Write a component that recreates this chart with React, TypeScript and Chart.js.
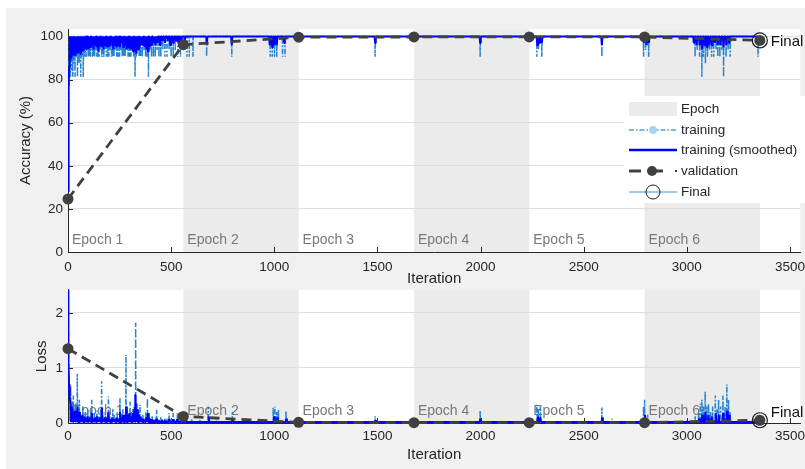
import React, { useEffect, useRef } from 'react';
import { Chart, registerables } from 'chart.js';

Chart.register(...registerables);

const FONT_FAMILY = '"Liberation Sans", Arial, Helvetica, sans-serif';
const AXIS_COLOR = '#262626';
const GRID_COLOR = '#dedede';
const SHADE_COLOR = '#ebebeb';
const RAW_COLOR = '#2483d2';
const SMOOTH_COLOR = '#0000ff';
const VAL_COLOR = '#404040';

// ---------- axes ----------
const iterMax = 3550;
const iterTicks = [0, 500, 1000, 1500, 2000, 2500, 3000, 3500];
const accMax = 103.5;
const accTicks = [0, 20, 40, 60, 80, 100];
const lossMax = 2.42;
const lossTicks = [0, 1, 2];

// ---------- epochs ----------
const epochLabels = ['Epoch 1', 'Epoch 2', 'Epoch 3', 'Epoch 4', 'Epoch 5', 'Epoch 6'];
const epochStarts = [0, 559, 1118, 1677, 2236, 2795];
const epochEnds = [559, 1118, 1677, 2236, 2795, 3354];

// ---------- validation ----------
const valIter = [0, 559, 1118, 1677, 2236, 2795, 3354];
const valAcc = [24.6, 96.2, 99.7, 99.8, 99.8, 99.8, 98.2];
const valLoss = [1.35, 0.12, 0.012, 0.006, 0.006, 0.006, 0.05];
const finalIter = 3354;
const finalAcc = 98.2;
const finalLoss = 0.05;

// ---------- training accuracy (raw, per mini-batch) ----------
const accRawBase = 100;
const accRawStartIter = [0, 2, 4];
const accRawStartVal = [28.1, 65.6, 84.4];
const accRawDipIter = [
  8, 12, 16, 19, 23, 27, 30, 34, 38, 42, 46, 50, 54, 58, 62, 66, 70, 74, 79, 84, 88, 93, 98, 103, 108, 113, 118, 124,
  129, 135, 140, 146, 151, 157, 163, 168, 174, 180, 186, 192, 198, 205, 211, 217, 223, 230, 236, 243, 250, 257, 263,
  270, 277, 284, 291, 298, 305, 312, 319, 325, 331, 338, 345, 352, 360, 368, 376, 384, 390, 397, 405, 414, 423, 432,
  441, 450, 460, 470, 480, 490, 500, 510, 520, 532, 545,
  577, 588, 606, 672, 794, 980, 990, 1001, 1012, 1040, 1052,
  1489, 1998, 2273, 2281, 2297, 2588,
  2790, 2800, 2815, 3031, 3040, 3050, 3062, 3073, 3080, 3090, 3100, 3110, 3120, 3130, 3142, 3150, 3160, 3170, 3178,
  3190, 3200, 3210, 3345,
];
const accRawDipVal = [
  81.3, 81.3, 90.6, 84.4, 81.3, 90.6, 87.5, 81.3, 90.6, 90.6, 81.3, 90.6, 87.5, 90.6, 81.3, 90.6, 93.8, 81.3, 90.6, 90.6,
  90.6, 93.8, 90.6, 90.6, 90.6, 93.8, 90.6, 90.6, 90.6, 93.8, 90.6, 90.6, 90.6, 93.8, 90.6, 90.6, 90.6, 93.8, 90.6,
  90.6, 90.6, 93.8, 90.6, 90.6, 90.6, 93.8, 90.6, 90.6, 90.6, 93.8, 90.6, 90.6, 90.6, 93.8, 90.6, 90.6, 90.6, 93.8,
  90.6, 81.3, 90.6, 93.8, 90.6, 90.6, 90.6, 93.8, 90.6, 90.6, 81.3, 93.8, 90.6, 90.6, 90.6, 93.8, 90.6, 90.6, 93.8,
  90.6, 90.6, 93.8, 90.6, 90.6, 93.8, 90.6, 90.6,
  90.6, 90.6, 90.6, 90.6, 90.6, 90.6, 90.6, 90.6, 90.6, 90.6, 90.6,
  90.6, 90.6, 90.6, 93.8, 90.6, 90.6,
  90.6, 93.8, 90.6, 96.9, 90.6, 93.8, 90.6, 81.3, 90.6, 87.5, 90.6, 93.8, 90.6, 90.6, 93.8, 90.6, 90.6, 93.8, 81.3,
  90.6, 93.8, 90.6, 90.6,
];

// ---------- training accuracy (smoothed) ----------
const accSmoothBase = 100;
const accSmoothStartIter = [0, 2, 4, 6, 8];
const accSmoothStartVal = [28, 55, 75, 86, 91];
const accSmoothDipIter = [
  12, 18, 24, 30, 36, 42, 48, 54, 60, 66, 72, 78, 84, 92, 100, 108, 116, 124, 132, 140, 148, 156, 164, 172, 180, 188,
  196, 204, 212, 220, 228, 236, 244, 252, 260, 268, 276, 284, 292, 300, 308, 316, 324, 332, 340, 348, 356, 364, 372,
  380, 388, 396, 404, 414, 424, 434, 446, 458, 470, 484, 496, 510, 524, 538, 550,
  566, 673, 794, 978, 990, 1001, 1012, 1048, 1489, 1998, 2275, 2285, 2297, 2588,
  2792, 2805, 2816, 3035, 3048, 3062, 3073, 3085, 3098, 3110, 3122, 3136, 3150, 3163, 3178, 3192, 3205, 3345,
];
const accSmoothDipVal = [
  89, 90, 91, 92, 91, 93, 92, 93, 92, 94, 93, 94, 95, 94, 94, 95, 96, 94, 96, 95, 93, 96, 95, 94, 96, 95, 95, 96, 97,
  94, 96, 95, 96, 95, 97, 95, 96, 94, 95, 94, 94, 93, 93, 92, 94, 95, 96, 96, 95, 94, 93, 95, 96, 97, 96, 97, 96, 98,
  97, 98, 96, 97, 98, 97, 98,
  98, 96, 96, 96, 95, 96, 96, 97, 97, 97, 96, 97, 97, 96,
  97, 96, 97, 97, 96, 96, 94, 96, 95, 96, 96, 97, 96, 96, 95, 96, 97, 97,
];

// ---------- training loss (raw) ----------
const lossRawBase = 0.02;
const lossRawStartIter = [0, 2, 4, 6, 8, 10];
const lossRawStartVal = [2.6, 1.6, 0.9, 0.7, 0.5, 0.35];
const lossRawSpikeIter = [
  13, 17, 21, 26, 31, 36, 41, 45, 50, 55, 60, 66, 72, 78, 84, 90, 96, 103, 110, 115, 121, 128, 134, 140, 147, 153, 158,
  163, 169, 175, 181, 188, 196, 203, 210, 217, 224, 231, 238, 245, 252, 259, 266, 273, 281, 287, 294, 301, 308, 314,
  321, 328, 335, 342, 349, 356, 363, 370, 378, 385, 392, 400, 408, 416, 424, 430, 440, 450, 460, 470, 480, 490, 500,
  510, 520, 530, 545,
  565, 575, 600, 640, 680, 720, 797, 850, 900, 995, 1003, 1012, 1020, 1057,
  1200, 1300, 1489, 1600, 1800, 1998, 2100, 2273, 2280, 2290, 2400, 2588, 2637,
  2790, 2795, 2810, 3000, 3040, 3057, 3065, 3073, 3080, 3089, 3097, 3105, 3115, 3125, 3138, 3146, 3154, 3164, 3175,
  3185, 3194, 3202, 3210, 3343,
];
const lossRawSpikeVal = [
  0.67, 0.25, 0.4, 0.5, 0.2, 0.35, 0.22, 0.89, 0.15, 0.42, 0.2, 0.12, 0.3, 0.1, 0.2, 0.1, 0.25, 0.12, 0.2, 0.42,
  0.1, 0.18, 0.08, 0.22, 0.12, 0.1, 0.25, 0.76, 0.15, 0.08, 0.2, 0.1, 0.48, 0.12, 0.08, 0.25, 0.15, 0.1, 0.2, 0.08,
  0.45, 0.15, 0.25, 0.1, 1.24, 0.25, 0.15, 0.39, 0.2, 0.25, 0.3, 1.82, 0.35, 0.2, 0.33, 0.1, 0.15, 0.08, 0.2, 0.45,
  0.15, 0.08, 0.12, 0.07, 0.1, 0.24, 0.07, 0.12, 0.06, 0.1, 0.08, 0.18, 0.08, 0.18, 0.06, 0.18, 0.08,
  0.2, 0.1, 0.08, 0.06, 0.3, 0.05, 0.2, 0.05, 0.04, 0.28, 0.3, 0.2, 0.25, 0.22,
  0.04, 0.03, 0.12, 0.03, 0.03, 0.23, 0.03, 0.33, 0.25, 0.3, 0.03, 0.28, 0.08,
  0.3, 0.42, 0.15, 0.05, 0.12, 0.2, 0.35, 0.42, 0.3, 0.57, 0.3, 0.35, 0.2, 0.3, 0.5, 0.25, 0.42, 0.3, 0.5, 0.3, 0.7,
  0.42, 0.2, 0.15,
];

// ---------- training loss (smoothed) ----------
const lossSmoothBase = 0.02;
const lossSmoothStartIter = [0, 1, 3, 5, 8, 12];
const lossSmoothStartVal = [2.6, 2.0, 1.1, 0.7, 0.45, 0.35];
const lossSmoothPeakIter = [
  16, 22, 28, 34, 40, 46, 52, 58, 64, 70, 76, 82, 88, 94, 100, 108, 116, 124, 132, 140, 148, 156, 164, 172, 180, 188,
  196, 204, 212, 220, 228, 236, 244, 252, 260, 268, 276, 282, 290, 298, 306, 314, 322, 328, 336, 344, 352, 360, 370,
  380, 388, 396, 406, 416, 428, 440, 455, 470, 490, 510, 530, 548,
  568, 682, 798, 1000, 1015, 1058, 1490, 1999, 2278, 2290, 2590, 2797,
  3060, 3075, 3090, 3105, 3120, 3140, 3155, 3176, 3195, 3205, 3344,
];
const lossSmoothPeakVal = [
  0.3, 0.25, 0.2, 0.22, 0.15, 0.3, 0.15, 0.2, 0.12, 0.15, 0.1, 0.12, 0.08, 0.12, 0.08, 0.1, 0.18, 0.08, 0.1, 0.12,
  0.07, 0.1, 0.28, 0.08, 0.1, 0.07, 0.2, 0.07, 0.1, 0.08, 0.07, 0.1, 0.08, 0.2, 0.1, 0.15, 0.12, 0.3, 0.15, 0.18,
  0.12, 0.18, 0.25, 0.52, 0.25, 0.15, 0.12, 0.08, 0.06, 0.1, 0.18, 0.08, 0.07, 0.06, 0.08, 0.05, 0.06, 0.05, 0.07,
  0.07, 0.07, 0.05,
  0.1, 0.12, 0.08, 0.12, 0.1, 0.08, 0.05, 0.08, 0.12, 0.1, 0.1, 0.15,
  0.08, 0.15, 0.2, 0.15, 0.12, 0.18, 0.15, 0.18, 0.22, 0.15, 0.06,
];

// Build a line table: the starting points, then each excursion from the baseline.
function buildSeries(
  startIter: number[], startVal: number[], evIter: number[], evVal: number[],
  base: number, halfWidth: number, endIter: number,
) {
  const pts: { x: number; y: number }[] = startIter.map((x, i) => ({ x, y: startVal[i] }));
  evIter.forEach((it, i) => {
    pts.push({ x: it - halfWidth, y: base });
    pts.push({ x: it, y: evVal[i] });
    pts.push({ x: it + halfWidth, y: base });
  });
  pts.push({ x: endIter, y: base });
  return pts;
}

type Deco = {
  epochLabelUp: number;
  finalTextDy: number;
  finalValue: number;
  legend: boolean;
};

function decoPlugin(deco: Deco) {
  return {
    id: 'matlabDeco',
    beforeDraw(chart: any) {
      const { ctx, chartArea: a, scales } = chart;
      const x = scales.x;
      ctx.save();
      ctx.fillStyle = '#ffffff';
      ctx.fillRect(a.left, a.top, a.right - a.left, a.bottom - a.top);
      ctx.fillStyle = SHADE_COLOR;
      epochStarts.forEach((s, i) => {
        if (i % 2 === 1) {
          const x0 = x.getPixelForValue(s);
          const x1 = x.getPixelForValue(epochEnds[i]);
          ctx.fillRect(x0, a.top, x1 - x0, a.bottom - a.top);
        }
      });
      ctx.restore();
    },
    beforeDatasetsDraw(chart: any) {
      const { ctx, chartArea: a, scales } = chart;
      const x = scales.x;
      const y = scales.y;
      ctx.save();
      // inward tick marks
      ctx.strokeStyle = AXIS_COLOR;
      ctx.lineWidth = 1;
      ctx.beginPath();
      x.ticks.forEach((t: any) => {
        const px = Math.round(x.getPixelForValue(t.value)) + 0.5;
        ctx.moveTo(px, a.bottom);
        ctx.lineTo(px, a.bottom - 5);
      });
      y.ticks.forEach((t: any) => {
        const py = Math.round(y.getPixelForValue(t.value)) + 0.5;
        ctx.moveTo(a.left, py);
        ctx.lineTo(a.left + 5, py);
      });
      ctx.stroke();
      // epoch labels
      ctx.fillStyle = '#787878';
      ctx.font = `14px ${FONT_FAMILY}`;
      ctx.textBaseline = 'middle';
      ctx.textAlign = 'left';
      epochStarts.forEach((s, i) => {
        ctx.fillText(epochLabels[i], x.getPixelForValue(s) + 4, a.bottom - deco.epochLabelUp);
      });
      ctx.restore();
    },
    afterDraw(chart: any) {
      const { ctx, scales } = chart;
      const x = scales.x;
      const y = scales.y;
      ctx.save();
      ctx.fillStyle = '#111111';
      ctx.font = `15px ${FONT_FAMILY}`;
      ctx.textBaseline = 'middle';
      ctx.textAlign = 'left';
      ctx.fillText('Final', x.getPixelForValue(finalIter) + 11, y.getPixelForValue(deco.finalValue) + deco.finalTextDy);
      if (deco.legend) {
        const L = 624;
        const T = 96;
        ctx.fillStyle = '#ffffff';
        ctx.fillRect(L, T, 805 - L, 107);
        const sx0 = L + 5;
        const sx1 = L + 53;
        const mid = (sx0 + sx1) / 2;
        const tx = L + 57;
        const rows = [109, 130, 150, 171, 192];
        // Epoch
        ctx.fillStyle = SHADE_COLOR;
        ctx.fillRect(sx0, rows[0] - 7, sx1 - sx0, 14);
        // training
        ctx.strokeStyle = '#4fa3e0';
        ctx.lineWidth = 1.5;
        ctx.setLineDash([5, 2, 1.5, 2]);
        ctx.beginPath();
        ctx.moveTo(sx0, rows[1]);
        ctx.lineTo(sx1, rows[1]);
        ctx.stroke();
        ctx.setLineDash([]);
        ctx.fillStyle = '#a9d3f2';
        ctx.beginPath();
        ctx.arc(mid, rows[1], 4, 0, Math.PI * 2);
        ctx.fill();
        // training (smoothed)
        ctx.strokeStyle = SMOOTH_COLOR;
        ctx.lineWidth = 2.5;
        ctx.beginPath();
        ctx.moveTo(sx0, rows[2]);
        ctx.lineTo(sx1, rows[2]);
        ctx.stroke();
        // validation
        ctx.strokeStyle = VAL_COLOR;
        ctx.lineWidth = 3;
        ctx.beginPath();
        ctx.moveTo(sx0, rows[3]);
        ctx.lineTo(sx0 + 12, rows[3]);
        ctx.moveTo(mid, rows[3]);
        ctx.lineTo(mid + 10, rows[3]);
        ctx.stroke();
        ctx.fillStyle = VAL_COLOR;
        ctx.beginPath();
        ctx.arc(mid - 1, rows[3], 5, 0, Math.PI * 2);
        ctx.fill();
        ctx.fillRect(sx1 - 2, rows[3] - 1, 2, 2);
        // Final
        ctx.strokeStyle = '#3d8fd6';
        ctx.lineWidth = 1;
        ctx.beginPath();
        ctx.moveTo(sx0, rows[4]);
        ctx.lineTo(sx1, rows[4]);
        ctx.stroke();
        ctx.strokeStyle = '#1a1a1a';
        ctx.beginPath();
        ctx.arc(mid, rows[4], 7, 0, Math.PI * 2);
        ctx.stroke();
        // texts
        ctx.fillStyle = AXIS_COLOR;
        ctx.font = `13.5px ${FONT_FAMILY}`;
        ['Epoch', 'training', 'training (smoothed)', 'validation', 'Final'].forEach((t, i) => {
          ctx.fillText(t, tx, rows[i]);
        });
      }
      ctx.restore();
    },
  };
}

type PanelCfg = {
  canvas: HTMLCanvasElement;
  raw: { x: number; y: number }[];
  smooth: { x: number; y: number }[];
  val: number[];
  finalValue: number;
  yMax: number;
  yTicks: number[];
  yTitle: string;
  yTitlePad: number;
  topPad: number;
  xAxisHeight: number;
  xTickPad: number;
  xTitlePad: number;
  deco: Deco;
};

function makePanel(c: PanelCfg) {
  const tickFont = { family: FONT_FAMILY, size: 13.5 };
  const titleFont = { family: FONT_FAMILY, size: 15 };
  return new Chart(c.canvas, {
    type: 'line',
    data: {
      datasets: [
        {
          label: 'Final',
          data: [{ x: finalIter, y: c.finalValue }],
          showLine: false,
          pointRadius: 7.5,
          pointBackgroundColor: 'rgba(0,0,0,0)',
          pointBorderColor: '#1a1a1a',
          pointBorderWidth: 1.2,
          clip: false,
          order: 0,
        } as any,
        {
          label: 'validation',
          data: valIter.map((x, i) => ({ x, y: c.val[i] })),
          borderColor: VAL_COLOR,
          borderWidth: 2.8,
          borderDash: [10, 6],
          pointRadius: 5.5,
          pointBackgroundColor: VAL_COLOR,
          pointBorderWidth: 0,
          clip: false,
          order: 1,
        } as any,
        {
          label: 'training (smoothed)',
          data: c.smooth,
          borderColor: SMOOTH_COLOR,
          borderWidth: 2,
          borderJoinStyle: 'bevel',
          pointRadius: 0,
          order: 2,
        } as any,
        {
          label: 'training',
          data: c.raw,
          borderColor: RAW_COLOR,
          borderWidth: 1.5,
          borderJoinStyle: 'bevel',
          borderDash: [5, 2, 1.5, 2],
          pointRadius: 0,
          order: 3,
        } as any,
      ],
    },
    options: {
      responsive: false,
      animation: false,
      devicePixelRatio: 1,
      events: [],
      layout: { padding: { top: c.topPad, right: 0, left: 0, bottom: 0 } },
      elements: { line: { tension: 0 } },
      plugins: { legend: { display: false }, tooltip: { enabled: false } },
      scales: {
        x: {
          type: 'linear',
          min: 0,
          max: iterMax,
          grid: { display: false, drawTicks: false },
          border: { display: true, color: AXIS_COLOR, width: 1 },
          afterBuildTicks: (s: any) => {
            s.ticks = iterTicks.map((v) => ({ value: v }));
          },
          ticks: {
            autoSkip: false,
            maxRotation: 0,
            padding: c.xTickPad,
            color: AXIS_COLOR,
            font: tickFont,
            callback: (v: any) => String(v),
          },
          title: {
            display: true,
            text: 'Iteration',
            color: AXIS_COLOR,
            font: titleFont,
            padding: { top: 0, bottom: c.xTitlePad },
          },
          afterFit: (s: any) => {
            s.height = c.xAxisHeight;
            s.paddingLeft = 0;
            s.paddingRight = 0;
          },
        },
        y: {
          type: 'linear',
          min: 0,
          max: c.yMax,
          grid: { color: GRID_COLOR, drawTicks: false, lineWidth: 1 },
          border: { display: true, color: AXIS_COLOR, width: 1 },
          afterBuildTicks: (s: any) => {
            s.ticks = c.yTicks.map((v) => ({ value: v }));
          },
          ticks: {
            autoSkip: false,
            padding: 5,
            color: AXIS_COLOR,
            font: tickFont,
            callback: (v: any) => String(v),
          },
          title: {
            display: true,
            text: c.yTitle,
            color: AXIS_COLOR,
            font: titleFont,
            padding: { top: c.yTitlePad, bottom: 0 },
          },
          afterFit: (s: any) => {
            s.width = 68;
            s.paddingTop = 0;
            s.paddingBottom = 0;
          },
        },
      },
    } as any,
    plugins: [decoPlugin(c.deco) as any],
  });
}

export default function App() {
  const topRef = useRef<HTMLCanvasElement>(null);
  const botRef = useRef<HTMLCanvasElement>(null);

  useEffect(() => {
    Chart.defaults.font.family = FONT_FAMILY;
    const accRaw = buildSeries(accRawStartIter, accRawStartVal, accRawDipIter, accRawDipVal, accRawBase, 1, finalIter);
    const accSmooth = buildSeries(accSmoothStartIter, accSmoothStartVal, accSmoothDipIter, accSmoothDipVal, accSmoothBase, 3, finalIter);
    const lossRaw = buildSeries(lossRawStartIter, lossRawStartVal, lossRawSpikeIter, lossRawSpikeVal, lossRawBase, 1, finalIter);
    const lossSmooth = buildSeries(lossSmoothStartIter, lossSmoothStartVal, lossSmoothPeakIter, lossSmoothPeakVal, lossSmoothBase, 3, finalIter);

    const top = makePanel({
      canvas: topRef.current!,
      raw: accRaw,
      smooth: accSmooth,
      val: valAcc,
      finalValue: finalAcc,
      yMax: accMax,
      yTicks: accTicks,
      yTitle: 'Accuracy (%)',
      yTitlePad: 17,
      topPad: 29,
      xAxisHeight: 38,
      xTickPad: 7,
      xTitlePad: 2,
      deco: { epochLabelUp: 12, finalTextDy: 1, finalValue: finalAcc, legend: true },
    });
    const bot = makePanel({
      canvas: botRef.current!,
      raw: lossRaw,
      smooth: lossSmooth,
      val: valLoss,
      finalValue: finalLoss,
      yMax: lossMax,
      yTicks: lossTicks,
      yTitle: 'Loss',
      yTitlePad: 33,
      topPad: 0,
      xAxisHeight: 46,
      xTickPad: 5,
      xTitlePad: 5,
      deco: { epochLabelUp: 12, finalTextDy: -7, finalValue: finalLoss, legend: false },
    });
    return () => {
      top.destroy();
      bot.destroy();
    };
  }, []);

  return (
    <div style={{ position: 'fixed', left: 0, top: 0, width: 805, height: 469, background: '#ffffff', overflow: 'hidden' }}>
      <div style={{ position: 'absolute', left: 6, top: 8, right: 0, bottom: 0, background: '#f0f0f0' }} />
      <canvas ref={topRef} width={809} height={290} style={{ position: 'absolute', left: 0, top: 0, width: 809, height: 290 }} />
      <canvas ref={botRef} width={809} height={188} style={{ position: 'absolute', left: 0, top: 281, width: 809, height: 188 }} />
    </div>
  );
}
